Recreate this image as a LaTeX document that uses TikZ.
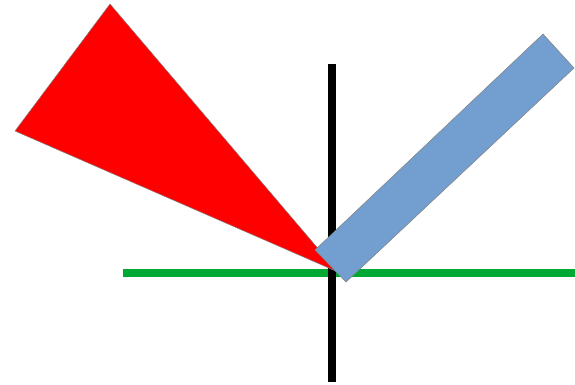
\documentclass[tikz,border=0pt]{standalone}
\usepackage{xcolor}
\definecolor{wedgeRed}{RGB}{255,0,0}
\definecolor{barBlue}{RGB}{114,159,207}
\definecolor{axisGreen}{RGB}{0,169,51}
\tikzset{
  axisline/.style = {line width=7.5pt},
  outlined/.style = {draw=gray, line width=0.5pt, line join=miter}
}

\begin{document}
\begin{tikzpicture}[x=1pt, y=-1pt]
    \useasboundingbox (0,0) rectangle (575,384);
    \draw[axisline, axisGreen] (123,273) -- (575,273);
    \draw[axisline, black] (332,64) -- (332,382);
    \filldraw[outlined, fill=wedgeRed] (110,4) -- (15,131) -- (338,272) -- cycle;
    \filldraw[outlined, fill=barBlue] (315,250) -- (543,34) -- (574,68) -- (346,282) -- cycle;
\end{tikzpicture}
\end{document}
